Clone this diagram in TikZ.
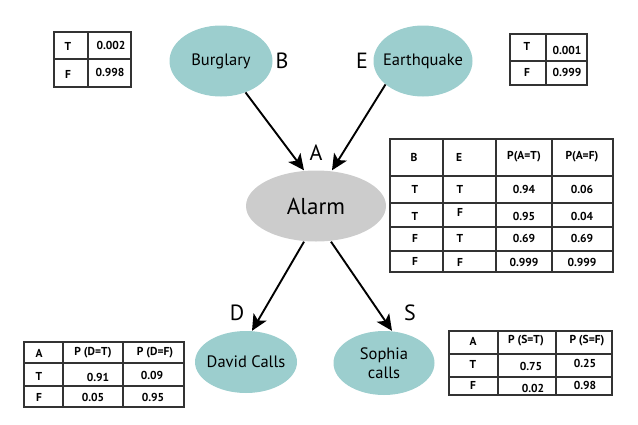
\documentclass[tikz,border=0pt]{standalone}
\usepackage{fontspec}
\setmainfont{PT Sans}
\usetikzlibrary{shapes,arrows.meta}
\definecolor{nodeteal}{RGB}{156,206,206}
\definecolor{alarmgray}{RGB}{204,204,204}
\tikzset{
  var/.style={ellipse,fill=nodeteal,inner xsep=-8pt,inner ysep=0pt,font=\fontsize{16.5}{19}\selectfont},
  letter/.style={font=\fontsize{22}{25}\selectfont},
  cell/.style={inner sep=0pt,font=\bfseries\fontsize{11.5}{13}\selectfont},
  tabline/.style={draw=black!80,line width=1.2pt},
  edge/.style={-{Stealth[length=16pt,width=15pt,inset=4pt]},line width=1.9pt}
}
\begin{document}
\begin{tikzpicture}[x=1pt,y=-1pt]
      \useasboundingbox (0,0) rectangle (638,424);
      % variables
      \node[var,minimum width=103pt,minimum height=71pt] (burglary) at (221,61) {Burglary};
      \node[var,minimum width=99pt,minimum height=71pt] (earthquake) at (423,61) {Earthquake};
      \node[var,fill=alarmgray,minimum width=140pt,minimum height=71pt,font=\fontsize{23}{27}\selectfont] (alarm) at (316,206) {Alarm};
      \node[var,minimum width=102pt,minimum height=62pt] (david) at (246,362) {David Calls};
      \node[var,minimum width=101pt,minimum height=64pt,align=center] (sophia) at (384,363) {Sophia\\calls};
      \foreach \x/\y/\t in {282/61/B,362/61/E,316/153/A,237/313/D,410/313/S} \node[letter,name=lbl\t] at (\x,\y) {\t};
      % edges
      \draw[edge] (burglary.-52) -- ([xshift=-12]alarm.north);
      \draw[edge] (earthquake.212) -- ([xshift=16]alarm.north);
      \draw[edge] ([xshift=-12]alarm.south) -- ([xshift=6]david.north);
      \draw[edge] ([xshift=15]alarm.south) -- ([xshift=8]sophia.north);
      % P(B)
      \draw[tabline] (54,32) rectangle (131,87) (88,32) -- (88,87) (54,59) -- (131,59);
      \foreach \x/\y/\t [count=\i] in {68/46/T,111/45/0.002,68/74/F,110/72/0.998} \node[cell,name=pb\i] at (\x,\y) {\t};
      % P(E)
      \draw[tabline] (510,34) rectangle (587,85) (546,34) -- (546,85) (510,61) -- (587,61);
      \foreach \x/\y/\t [count=\i] in {527/46/T,567/50/0.001,527/72/F,567/72/0.999} \node[cell,name=pe\i] at (\x,\y) {\t};
      % P(A|B,E)
      \draw[tabline] (390,139) rectangle (613,272);
      \foreach \x in {443,496,552} \draw[tabline] (\x,139) -- (\x,272);
      \foreach \y in {176,203,227,251} \draw[tabline] (390,\y) -- (613,\y);
      \foreach \x/\y/\t [count=\i] in {414/157/B,459/157/E,524/157/P(A=T),582/157/P(A=F),
          415/189/T,460/189/T,524/189/0.94,582/189/0.06,
          415/216/T,460/212/F,524/216/0.95,582/216/0.04,
          415/238/F,460/238/T,524/238/0.69,582/238/0.69,
          415/261/F,460/262/F,524/262/0.999,582/262/0.999}
        \node[cell,name=pa\i] at (\x,\y) {\t};
      % P(D|A)
      \draw[tabline] (24,342) rectangle (184,407) (63,342) -- (63,407) (123,342) -- (123,407) (24,363) -- (184,363) (24,386) -- (184,386);
      \foreach \x/\y/\t [count=\i] in {39/353/A,93/353/P (D=T),155/353/P (D=F),
          39/376/T,98/377/0.91,152/375/0.09,
          39/397/F,93/397/0.05,153/397/0.95}
        \node[cell,name=pd\i] at (\x,\y) {\t};
      % P(S|A)
      \draw[tabline] (449,331) rectangle (612,395) (498,331) -- (498,395) (556,331) -- (556,395) (449,354) -- (612,354) (449,377) -- (612,377);
      \foreach \x/\y/\t [count=\i] in {473/341/A,526/341/P (S=T),587/341/P (S=F),
          473/364/T,531/366/0.75,585/363/0.25,
          473/385/F,533/388/0.02,585/385/0.98}
        \node[cell,name=ps\i] at (\x,\y) {\t};
    \end{tikzpicture}
\end{document}
